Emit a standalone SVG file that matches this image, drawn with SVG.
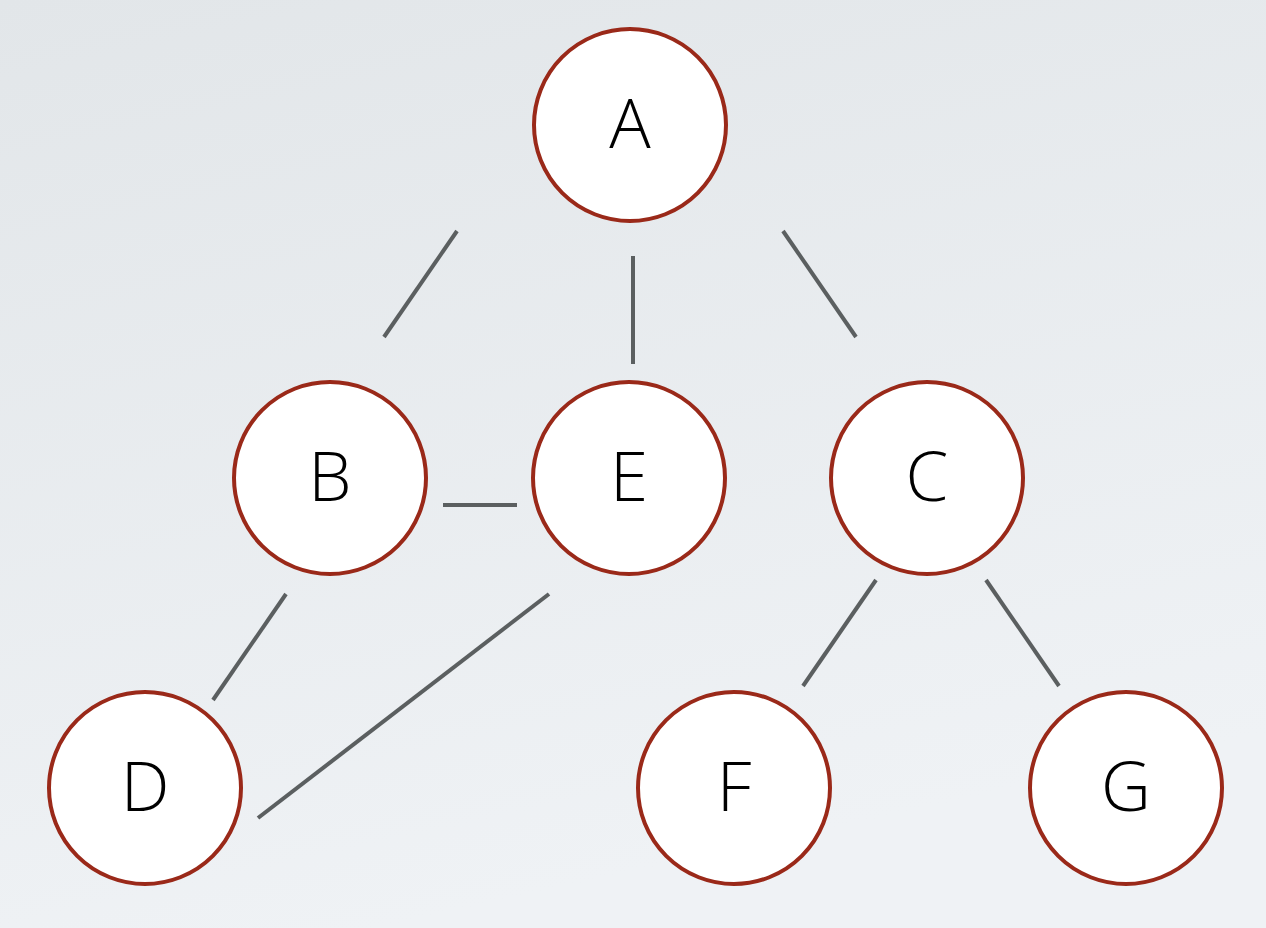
<svg xmlns="http://www.w3.org/2000/svg" width="1266" height="928" viewBox="0 0 1266 928">
<defs>
<linearGradient id="bg" x1="0" y1="0" x2="0.3" y2="1">
<stop offset="0" stop-color="#e2e6e9"/>
<stop offset="1" stop-color="#eff2f5"/>
</linearGradient>
<style>
.node circle{fill:#ffffff;stroke:#9a2919;stroke-width:4}
.node text{font-family:"Open Sans","Liberation Sans",sans-serif;font-weight:300;font-size:69px;fill:#000;text-anchor:middle}
#connectors line{stroke:#5b5f60;stroke-width:4;stroke-linecap:butt}
</style>
</defs>
<rect width="1266" height="928" fill="url(#bg)"/>
<g id="connectors">
<line x1="457" y1="231" x2="384" y2="337"/>
<line x1="633" y1="256" x2="633" y2="364"/>
<line x1="783" y1="231" x2="856" y2="337"/>
<line x1="443" y1="505" x2="517" y2="505"/>
<line x1="286" y1="594" x2="213" y2="700"/>
<line x1="549" y1="594" x2="258" y2="818"/>
<line x1="876" y1="580" x2="803" y2="686"/>
<line x1="986" y1="580" x2="1059" y2="686"/>
</g>
<g id="node-A" class="node"><circle cx="630" cy="125" r="96"/><text x="630" y="148">A</text></g>
<g id="node-B" class="node"><circle cx="330" cy="478" r="96"/><text x="330" y="501">B</text></g>
<g id="node-E" class="node"><circle cx="629" cy="478" r="96"/><text x="629" y="501">E</text></g>
<g id="node-C" class="node"><circle cx="927" cy="478" r="96"/><text x="927" y="501">C</text></g>
<g id="node-D" class="node"><circle cx="145" cy="788" r="96"/><text x="145" y="811">D</text></g>
<g id="node-F" class="node"><circle cx="734" cy="788" r="96"/><text x="734" y="811">F</text></g>
<g id="node-G" class="node"><circle cx="1126" cy="788" r="96"/><text x="1126" y="811">G</text></g>
</svg>
